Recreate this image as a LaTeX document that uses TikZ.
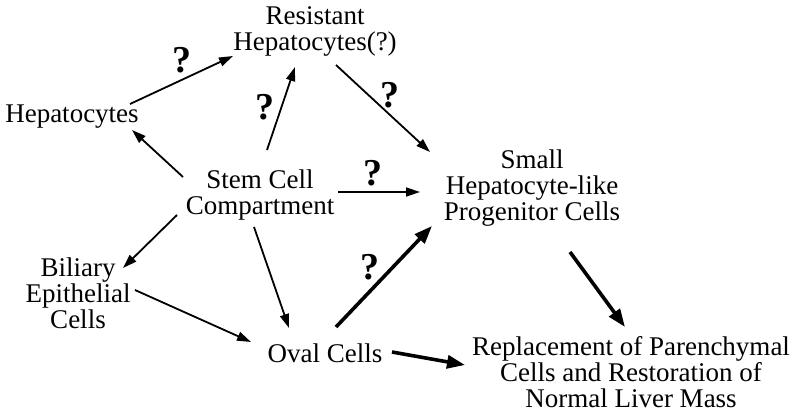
\documentclass[tikz,border=0pt]{standalone}
\usepackage{fontspec}
\setmainfont{Liberation Serif}
\usetikzlibrary{arrows.meta,calc}
\tikzstyle{cell}=[align=center, inner sep=0pt, font=\fontsize{27}{26}\selectfont]
\tikzstyle{thin>}=[line width=1.8pt, -{Triangle[length=14pt,width=9pt]}]
\tikzstyle{thick>}=[line width=3.6pt, -{Triangle[length=18pt,width=13pt]}]
\tikzstyle{qmark}=[font=\fontsize{38}{38}\selectfont\bfseries, inner sep=0pt, anchor=center]

\begin{document}
\begin{tikzpicture}[x=1pt,y=1pt]
\useasboundingbox (0,0) rectangle (800,416);
\node[cell] (res) at (315,385) {Resistant\\Hepatocytes(?)};
\node[cell] (hep) at (72,299) {Hepatocytes};
\node[cell] (stem) at (260,221) {Stem Cell\\Compartment};
\node[cell] (small) at (532,228) {Small\\Hepatocyte-like\\Progenitor Cells};
\node[cell] (bil) at (78,123) {Biliary\\Epithelial\\Cells};
\node[cell] (oval) at (325,63) {Oval Cells};
\node[cell] (rep) at (631,44) {Replacement of Parenchymal\\Cells and Restoration of\\Normal Liver Mass};
\draw[thin>] ([shift={(58,13)}]hep.center) -- node[qmark,shift={(0,20)}] (q1) {?} ([shift={(-82,-25)}]res.center);
\draw[thin>] ([shift={(-77,18)}]stem.center) -- ([shift={(60,-13)}]hep.center);
\draw[thin>] ([shift={(7,45)}]stem.center) -- node[qmark,shift={(-16,1)}] (q2) {?} ([shift={(-20,-36)}]res.center);
\draw[thin>] ([shift={(21,-34)}]res.center) -- node[qmark,shift={(7,13)}] (q3) {?} ([shift={(-102,36)}]small.center);
\draw[thin>] ([shift={(78,3)}]stem.center) -- node[qmark,shift={(-6,19)}] (q4) {?} ([shift={(-112,-4)}]small.center);
\draw[thin>] ([shift={(-83,-20)}]stem.center) -- ([shift={(45,25)}]bil.center);
\draw[thin>] ([shift={(-6,-32)}]stem.center) -- ([shift={(-36,25)}]oval.center);
\draw[thin>] ([shift={(57,3)}]bil.center) -- ([shift={(-74,11)}]oval.center);
\draw[thick>] ([shift={(11,26)}]oval.center) -- node[qmark,shift={(-14,9)}] (q5) {?} ([shift={(-100,-38)}]small.center);
\draw[thick>] ([shift={(38,-64)}]small.center) -- ([shift={(-6,45)}]rep.center);
\draw[thick>] ([shift={(67,1)}]oval.center) -- ([shift={(-166,7)}]rep.center);
\end{tikzpicture}
\end{document}
